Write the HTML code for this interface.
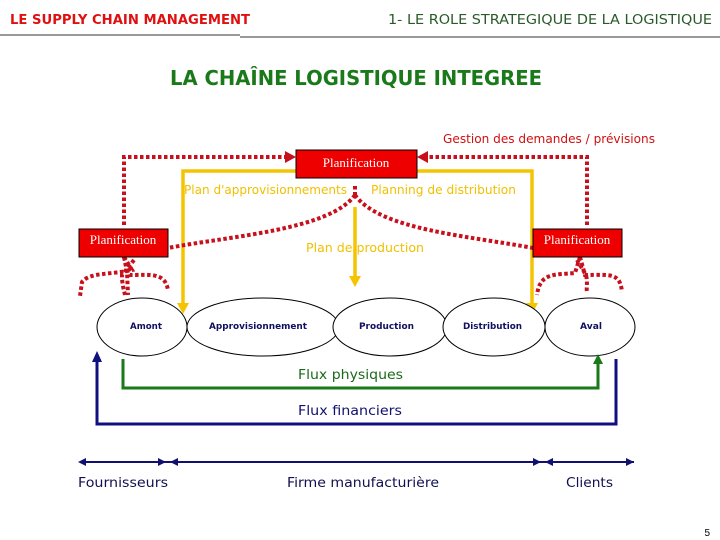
<!DOCTYPE html>
<html><head><meta charset="utf-8"><style>
html,body{margin:0;padding:0;background:#fff;width:720px;height:540px;overflow:hidden}
svg{display:block}
</style></head><body>
<svg width="720" height="540" viewBox="0 0 720 540" xmlns="http://www.w3.org/2000/svg" font-family="Liberation Sans, DejaVu Sans, sans-serif">
<!-- header -->
<text x="10" y="24" font-size="13" font-weight="bold" fill="#e01010" font-family="DejaVu Sans, sans-serif" textLength="240" lengthAdjust="spacingAndGlyphs">LE SUPPLY CHAIN MANAGEMENT</text>
<text x="388" y="24" font-size="13" fill="#2a5a2a" font-family="DejaVu Sans, sans-serif" textLength="324" lengthAdjust="spacingAndGlyphs">1- LE ROLE STRATEGIQUE DE LA LOGISTIQUE</text>
<line x1="0" y1="35" x2="240" y2="35" stroke="#999" stroke-width="2"/>
<line x1="240" y1="37" x2="720" y2="37" stroke="#999" stroke-width="2"/>
<text x="170" y="85" font-size="20" font-weight="bold" fill="#1a7a1a" font-family="DejaVu Sans, sans-serif" textLength="372" lengthAdjust="spacingAndGlyphs">LA CHAÎNE LOGISTIQUE INTEGREE</text>

<text x="443" y="143" font-size="12" fill="#d01010" font-family="DejaVu Sans, sans-serif" textLength="212" lengthAdjust="spacingAndGlyphs">Gestion des demandes / prévisions</text>

<!-- yellow -->
<g stroke="#f5c400" stroke-width="3.5" fill="none">
<polyline points="296,171 183,171 183,306"/>
<polyline points="417,171 532,171 532,306"/>
<line x1="355" y1="207" x2="355" y2="278"/>
</g>
<g fill="#f5c400">
<path d="M177,303 L189,303 L183,314 z"/>
<path d="M526,303 L538,303 L532,314 z"/>
<path d="M349,276 L361,276 L355,287 z"/>
</g>
<g font-size="12" fill="#f0c000" font-family="DejaVu Sans, sans-serif">
<text x="184" y="194" textLength="163" lengthAdjust="spacingAndGlyphs">Plan d'approvisionnements</text>
<text x="371" y="194" textLength="145" lengthAdjust="spacingAndGlyphs">Planning de distribution</text>
<text x="306" y="252" textLength="118" lengthAdjust="spacingAndGlyphs">Plan de production</text>
</g>

<!-- red dotted -->
<g stroke="#c8101c" stroke-width="4" fill="none" stroke-dasharray="3.5,2.5">
<polyline points="124,225 124,157 288,157"/>
<polyline points="587,225 587,157 427,157"/>
<path d="M355,186 L355,195"/>
<path d="M355,195 C330,230 230,236 168,248"/>
<path d="M355,195 C380,230 470,236 533,248"/>
<path d="M124,257 L127,272 L128,295"/>
<path d="M124,257 L132,270 C110,275 90,272 82,282 L80,296"/>
<path d="M124,257 L130,275 C150,275 165,272 168,290"/>
<path d="M134,260 L122,275 C122,285 124,290 125,295"/>
<path d="M580,257 L575,273 C555,275 540,272 537,295"/>
<path d="M580,257 L585,275 C610,275 620,272 622,292"/>
<path d="M577,260 L586,275 C588,283 586,288 587,292"/>
</g>
<path d="M296,157 L285,151 L285,163 z" fill="#c8101c"/>
<path d="M417,157 L428,151 L428,163 z" fill="#c8101c"/>

<!-- boxes -->
<g fill="#ee0000" stroke="#000" stroke-width="1">
<rect x="296" y="150" width="121" height="28"/>
<rect x="79" y="229" width="89" height="28"/>
<rect x="533" y="229" width="89" height="28"/>
</g>
<g font-family="Liberation Serif, serif" font-size="13" fill="#fff" text-anchor="middle">
<text x="356" y="167">Planification</text>
<text x="123" y="244">Planification</text>
<text x="577" y="244">Planification</text>
</g>

<!-- ellipses -->
<g fill="#fff" stroke="#000" stroke-width="1">
<ellipse cx="142" cy="327" rx="45" ry="29"/>
<ellipse cx="263" cy="327" rx="76" ry="29"/>
<ellipse cx="390" cy="327" rx="57" ry="29"/>
<ellipse cx="494" cy="327" rx="51" ry="29"/>
<ellipse cx="590" cy="327" rx="45" ry="29"/>
</g>
<g font-size="9" font-weight="bold" fill="#101060" font-family="DejaVu Sans, sans-serif">
<text x="130" y="329" textLength="32" lengthAdjust="spacingAndGlyphs">Amont</text>
<text x="209" y="329" textLength="98" lengthAdjust="spacingAndGlyphs">Approvisionnement</text>
<text x="359" y="329" textLength="55" lengthAdjust="spacingAndGlyphs">Production</text>
<text x="463" y="329" textLength="59" lengthAdjust="spacingAndGlyphs">Distribution</text>
<text x="580" y="329" textLength="22" lengthAdjust="spacingAndGlyphs">Aval</text>
</g>

<!-- flows -->
<polyline points="123,359 123,388 598,388 598,362" fill="none" stroke="#1a7a1a" stroke-width="3"/>
<path d="M593,364 L603,364 L598,354 z" fill="#1a7a1a"/>
<polyline points="616,359 616,424 97,424 97,360" fill="none" stroke="#101080" stroke-width="3"/>
<path d="M92,362 L102,362 L97,351 z" fill="#101080"/>
<text x="298" y="379" font-size="13" fill="#1a6a1a" font-family="DejaVu Sans, sans-serif" textLength="105" lengthAdjust="spacingAndGlyphs">Flux physiques</text>
<text x="298" y="415" font-size="13" fill="#101070" font-family="DejaVu Sans, sans-serif" textLength="104" lengthAdjust="spacingAndGlyphs">Flux financiers</text>

<!-- bottom axis -->
<line x1="80" y1="462" x2="634" y2="462" stroke="#101070" stroke-width="2"/>
<g fill="#101070">
<path d="M78,462 L86,458 L86,466 z"/>
<path d="M166,462 L158,458 L158,466 z"/>
<path d="M170,462 L178,458 L178,466 z"/>
<path d="M541,462 L533,458 L533,466 z"/>
<path d="M545,462 L553,458 L553,466 z"/>
<path d="M634,462 L626,458 L626,466 z"/>
</g>
<g font-size="13" fill="#101050" font-family="DejaVu Sans, sans-serif">
<text x="78" y="487" textLength="90" lengthAdjust="spacingAndGlyphs">Fournisseurs</text>
<text x="287" y="487" textLength="152" lengthAdjust="spacingAndGlyphs">Firme manufacturière</text>
<text x="566" y="487" textLength="47" lengthAdjust="spacingAndGlyphs">Clients</text>
</g>
<text x="710" y="536" font-size="10" fill="#000" text-anchor="end">5</text>
</svg>
</body></html>
